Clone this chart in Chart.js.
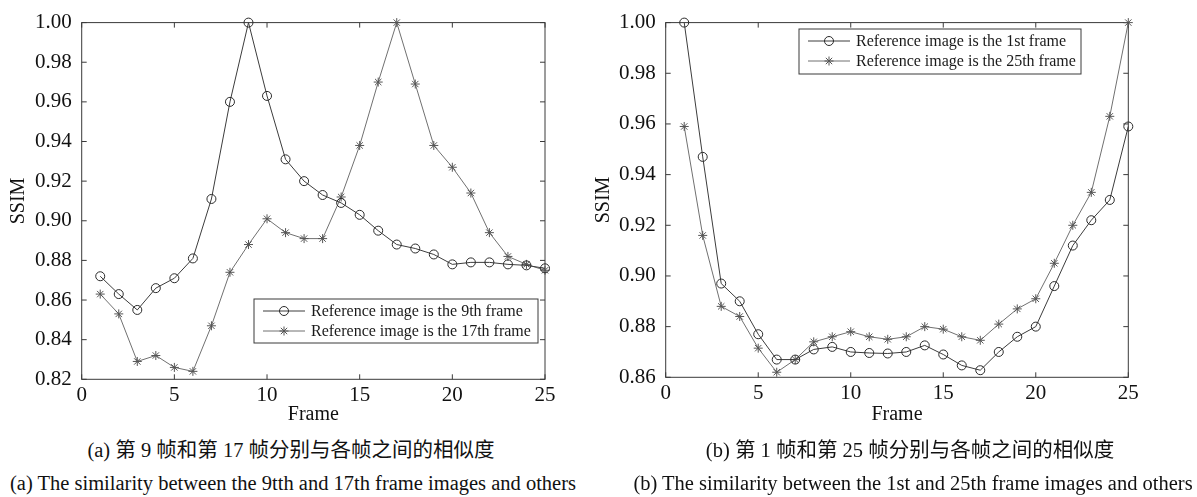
<!DOCTYPE html>
<html>
<head>
<meta charset="utf-8">
<script src="https://cdn.jsdelivr.net/npm/chart.js@4.4.1/dist/chart.umd.min.js"></script>
<style>
  body { margin: 0; background: #fff; width: 1197px; height: 497px; position: relative; overflow: hidden; }
  .panel { position: absolute; top: 0; height: 430px; }
  .cap {
    position: absolute; font-family: "Liberation Serif", "Noto Sans CJK SC", serif;
    font-size: 20.5px; line-height: 24px; color: #111; white-space: nowrap;
    transform: translateX(-50%);
  }
</style>
</head>
<body>
<div class="panel" style="left:0;width:600px"><canvas id="chartA" width="600" height="430"></canvas></div>
<div class="panel" style="left:588px;width:609px"><canvas id="chartB" width="609" height="430"></canvas></div>
<div class="cap" style="left:291px;top:438px">(a) 第 9 帧和第 17 帧分别与各帧之间的相似度</div>
<div class="cap" style="left:293px;top:471px">(a) The similarity between the 9tth and 17th frame images and others</div>
<div class="cap" style="left:910px;top:438px">(b) 第 1 帧和第 25 帧分别与各帧之间的相似度</div>
<div class="cap" style="left:913px;top:471px">(b) The similarity between the 1st and 25th frame images and others</div>
<script>
  var frames = [1, 2, 3, 4, 5, 6, 7, 8, 9, 10, 11, 12, 13, 14, 15, 16, 17, 18, 19, 20, 21, 22, 23, 24, 25];

  // panel (a)
  var ref9 = [0.872, 0.863, 0.855, 0.866, 0.871, 0.881, 0.911, 0.960, 1.000, 0.963, 0.931, 0.920, 0.913,
              0.909, 0.903, 0.895, 0.888, 0.886, 0.883, 0.878, 0.879, 0.879, 0.878, 0.8775, 0.876];
  var ref17 = [0.863, 0.853, 0.829, 0.832, 0.826, 0.824, 0.847, 0.874, 0.888, 0.901, 0.894, 0.891, 0.891,
               0.912, 0.938, 0.970, 1.000, 0.969, 0.938, 0.927, 0.914, 0.894, 0.882, 0.878, 0.875];

  // panel (b)
  var ref1 = [1.000, 0.947, 0.897, 0.890, 0.877, 0.867, 0.867, 0.871, 0.872, 0.870, 0.8696, 0.8694, 0.870,
              0.8726, 0.869, 0.8647, 0.8628, 0.870, 0.876, 0.880, 0.896, 0.912, 0.922, 0.930, 0.959];
  var ref25 = [0.959, 0.916, 0.888, 0.884, 0.8715, 0.862, 0.867, 0.874, 0.876, 0.878, 0.876, 0.875, 0.876,
               0.880, 0.879, 0.876, 0.8746, 0.881, 0.887, 0.891, 0.905, 0.920, 0.933, 0.963, 1.000];

  var xTicks = [0, 5, 10, 15, 20, 25];
  var yTicksA = [0.82, 0.84, 0.86, 0.88, 0.90, 0.92, 0.94, 0.96, 0.98, 1.00];
  var yTicksB = [0.86, 0.88, 0.90, 0.92, 0.94, 0.96, 0.98, 1.00];

  var SERIF = '"Liberation Serif", "Times New Roman", serif';
  var AXIS = "#3a3a3a";

  function pts(vals) {
    return frames.map(function (f, i) { return { x: f, y: vals[i] }; });
  }

  // box around the plot with inward tick marks, plus a MATLAB-like legend
  var framePlugin = {
    id: "frameBox",
    beforeDatasetsDraw: function (chart) {
      var a = chart.chartArea, ctx = chart.ctx, tl = 5;
      ctx.save();
      ctx.strokeStyle = AXIS;
      ctx.lineWidth = 1;
      ctx.strokeRect(a.left, a.top, a.right - a.left, a.bottom - a.top);
      ctx.beginPath();
      chart.scales.x.ticks.forEach(function (t) {
        var px = chart.scales.x.getPixelForValue(t.value);
        ctx.moveTo(px, a.bottom); ctx.lineTo(px, a.bottom - tl);
        ctx.moveTo(px, a.top); ctx.lineTo(px, a.top + tl);
      });
      chart.scales.y.ticks.forEach(function (t) {
        var py = chart.scales.y.getPixelForValue(t.value);
        ctx.moveTo(a.left, py); ctx.lineTo(a.left + tl, py);
        ctx.moveTo(a.right, py); ctx.lineTo(a.right - tl, py);
      });
      ctx.stroke();
      ctx.restore();
    },
    afterDatasetsDraw: function (chart, args, opts) {
      var ctx = chart.ctx, b = opts.box;
      ctx.save();
      ctx.fillStyle = "#fff";
      ctx.fillRect(b.x, b.y, b.w, b.h);
      ctx.strokeStyle = AXIS;
      ctx.lineWidth = 1;
      ctx.strokeRect(b.x, b.y, b.w, b.h);
      chart.data.datasets.forEach(function (ds, i) {
        var y = b.y + opts.rows[i];
        ctx.strokeStyle = ds.borderColor;
        ctx.beginPath();
        ctx.moveTo(b.x + 9, y); ctx.lineTo(b.x + 51, y);
        ctx.stroke();
        ctx.fillStyle = "rgba(0,0,0,0)";
        ctx.strokeStyle = ds.pointBorderColor;
        Chart.helpers.drawPoint(ctx, { pointStyle: ds.pointStyle, radius: ds.pointRadius, rotation: 0, borderWidth: 1 }, b.x + 30, y);
        ctx.fillStyle = "#1a1a1a";
        ctx.font = "16px " + SERIF;
        ctx.textBaseline = "middle";
        ctx.fillText(ds.label, b.x + 57, y + 1);
      });
      ctx.restore();
    }
  };

  function makeChart(id, sets, yTicks, yMin, geo) {
    return new Chart(document.getElementById(id), {
      type: "line",
      data: {
        datasets: sets.map(function (s) {
          return {
            label: s.label,
            data: pts(s.values),
            borderColor: s.line,
            borderWidth: 1,
            pointStyle: s.marker,
            pointRadius: 4.5,
            pointBorderColor: s.mark,
            pointBackgroundColor: "rgba(0,0,0,0)",
            pointBorderWidth: 1,
            tension: 0,
            clip: false
          };
        })
      },
      options: {
        responsive: false,
        animation: false,
        events: [],
        layout: { padding: { top: geo.top, right: geo.right, left: 0, bottom: 0 } },
        plugins: {
          legend: { display: false },
          tooltip: { enabled: false },
          frameBox: { box: geo.legend, rows: [12, 32] }
        },
        scales: {
          x: {
            type: "linear",
            min: 0,
            max: 25,
            afterBuildTicks: function (s) { s.ticks = xTicks.map(function (v) { return { value: v }; }); },
            afterFit: function (s) { s.height = geo.xh; },
            grid: { display: false, drawTicks: false },
            border: { display: false },
            ticks: { color: "#111", font: { family: SERIF, size: 21 }, padding: 4, maxRotation: 0 },
            title: { display: true, text: "Frame", color: "#111", font: { family: SERIF, size: 20 }, padding: { top: 0, bottom: 3 } }
          },
          y: {
            type: "linear",
            min: yMin,
            max: 1.0,
            afterBuildTicks: function (s) { s.ticks = yTicks.map(function (v) { return { value: v }; }); },
            afterFit: function (s) { s.width = geo.yw; },
            grid: { display: false, drawTicks: false },
            border: { display: false },
            ticks: {
              color: "#111", font: { family: SERIF, size: 21 }, padding: 10,
              callback: function (v) { return Number(v).toFixed(2); }
            },
            title: { display: true, text: "SSIM", color: "#111", font: { family: SERIF, size: 20 }, padding: { top: geo.titlePad, bottom: 0 } }
          }
        }
      },
      plugins: [framePlugin]
    });
  }

  makeChart("chartA", [
    { label: "Reference image is the 9th frame", values: ref9, marker: "circle", line: "#3c3c3c", mark: "#2a2a2a" },
    { label: "Reference image is the 17th frame", values: ref17, marker: "star", line: "#707070", mark: "#555555" }
  ], yTicksA, 0.82, { top: 14, right: 55, xh: 50.7, yw: 81.7, titlePad: 7, legend: { x: 254, y: 299, w: 284, h: 44 } });

  makeChart("chartB", [
    { label: "Reference image is the 1st frame", values: ref1, marker: "circle", line: "#3c3c3c", mark: "#2a2a2a" },
    { label: "Reference image is the 25th frame", values: ref25, marker: "star", line: "#707070", mark: "#555555" }
  ], yTicksB, 0.86, { top: 12.7, right: 68.7, xh: 52.7, yw: 77.7, titlePad: 4, legend: { x: 211, y: 29, w: 282, h: 45 } });
</script>
</body>
</html>
